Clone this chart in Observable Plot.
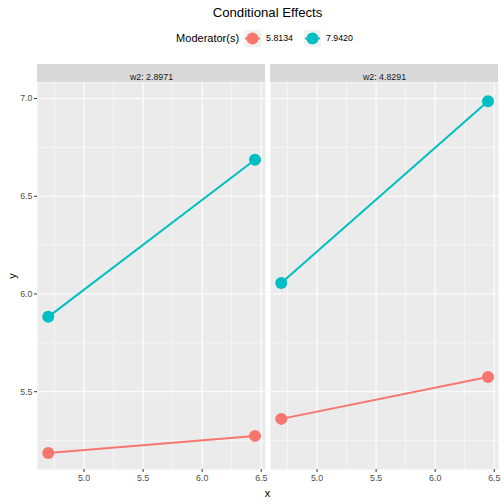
<!DOCTYPE html>
<html><head><meta charset="utf-8">
<script src="https://cdn.jsdelivr.net/npm/d3@7"></script>
<script src="https://cdn.jsdelivr.net/npm/@observablehq/plot@0.6"></script>
<style>
body{margin:0;background:#fff;font-family:"Liberation Sans",Arial,Helvetica,sans-serif;}
#wrap{position:relative;width:504px;height:504px;overflow:hidden;background:#fff;}
#title{position:absolute;left:37px;width:461px;top:4px;text-align:center;font-size:13.2px;color:#000;line-height:18px;}
#legend{position:absolute;left:37px;width:461px;top:29px;height:18px;display:flex;justify-content:center;align-items:center;font-size:11px;color:#000;}
#legend .lab{font-size:8.8px;margin-left:5px;margin-right:6px;}
#legend svg{display:block;}
#chart{position:absolute;left:0;top:58px;}
#xlab{position:absolute;left:37px;width:461px;top:486px;text-align:center;font-size:11px;line-height:14px;color:#000;}
#ylab{position:absolute;left:12px;top:276px;font-size:11px;line-height:14px;transform:translate(-50%,-50%) rotate(-90deg);color:#000;}
</style></head>
<body><div id="wrap">
<div id="title"></div>
<div id="legend"></div>
<div id="chart"></div>
<div id="xlab"></div>
<div id="ylab"></div>
</div>
<script>
// ---- data ----
const titleText = "Conditional Effects";
const legendTitle = "Moderator(s)";
const panels = ["w2: 2.8971", "w2: 4.8291"];
const moderators = ["5.8134", "7.9420"];
const colors = ["#F8766D", "#00BFC4"];
const xValues = [4.697, 6.447];
const panel1Mod1 = [5.187, 5.274];
const panel1Mod2 = [5.883, 6.687];
const panel2Mod1 = [5.361, 5.575];
const panel2Mod2 = [6.056, 6.986];
const xTicks = [5.0, 5.5, 6.0, 6.5];
const xMinor = [4.75, 5.25, 5.75, 6.25];
const yTicks = [5.5, 6.0, 6.5, 7.0];
const yMinor = [5.25, 5.75, 6.25, 6.75];
const xLabel = "x", yLabel = "y";

const series = [
  [panels[0], moderators[0], panel1Mod1],
  [panels[0], moderators[1], panel1Mod2],
  [panels[1], moderators[0], panel2Mod1],
  [panels[1], moderators[1], panel2Mod2]
];
const rows = series.flatMap(([panel, mod, ys]) => ys.map((y, i) => ({panel, mod, x: xValues[i], y})));

// ---- layout ----
const W = 504, H = 446, mT = 24, mB = 35, mL = 37, mR = 6, stripH = 18;
const panelH = H - mT - mB;

document.getElementById("title").textContent = titleText;
document.getElementById("xlab").textContent = xLabel;
document.getElementById("ylab").textContent = yLabel;

// legend
const leg = d3.select("#legend");
leg.append("span").text(legendTitle);
moderators.forEach((m, i) => {
  const s = leg.append("svg").attr("width", 17).attr("height", 17).style("margin-left", "5px");
  s.append("rect").attr("width", 17).attr("height", 17).attr("fill", "#F2F2F2");
  s.append("line").attr("x1", 1).attr("x2", 16).attr("y1", 8.5).attr("y2", 8.5).attr("stroke", colors[i]).attr("stroke-width", 2);
  s.append("circle").attr("cx", 8.5).attr("cy", 8.5).attr("r", 6).attr("fill", colors[i]);
  leg.append("span").attr("class", "lab").text(m);
});

const chart = Plot.plot({
  width: W, height: H,
  marginTop: mT, marginBottom: mB, marginLeft: mL, marginRight: mR,
  style: {fontFamily: '"Liberation Sans", Arial, sans-serif', fontSize: "8.8px", background: "transparent"},
  x: {domain: [4.606, 6.536]},
  y: {domain: [5.102, 7.082]},
  fx: {domain: panels, paddingInner: 0.0215, paddingOuter: 0, axis: null},
  color: {domain: moderators, range: colors},
  marks: [
    Plot.frame({fill: "#EBEBEB"}),
    Plot.gridX(xMinor, {stroke: "#fff", strokeOpacity: 1, strokeWidth: 0.55}),
    Plot.gridY(yMinor, {stroke: "#fff", strokeOpacity: 1, strokeWidth: 0.55}),
    Plot.gridX(xTicks, {stroke: "#fff", strokeOpacity: 1, strokeWidth: 1.1}),
    Plot.gridY(yTicks, {stroke: "#fff", strokeOpacity: 1, strokeWidth: 1.1}),
    Plot.rect([0], {fill: "#D9D9D9", insetTop: -stripH, insetBottom: panelH}),
    Plot.text(panels, {fx: d => d, text: d => d, frameAnchor: "top", dy: -stripH / 2, fill: "#1A1A1A", fontSize: 8.8}),
    Plot.axisX({ticks: xTicks, tickFormat: d3.format(".1f"), tickSize: 3, tickPadding: 2, stroke: "#333333", fill: "#4D4D4D", label: null, fontSize: 8.8}),
    Plot.axisY({ticks: yTicks, tickFormat: d3.format(".1f"), tickSize: 3, tickPadding: 2, stroke: "#333333", fill: "#4D4D4D", label: null, fontSize: 8.8}),
    Plot.line(rows, {fx: "panel", x: "x", y: "y", z: "mod", stroke: "mod", strokeWidth: 2}),
    Plot.dot(rows, {fx: "panel", x: "x", y: "y", fill: "mod", r: 6})
  ]
});
document.getElementById("chart").appendChild(chart);
</script>
</body></html>
